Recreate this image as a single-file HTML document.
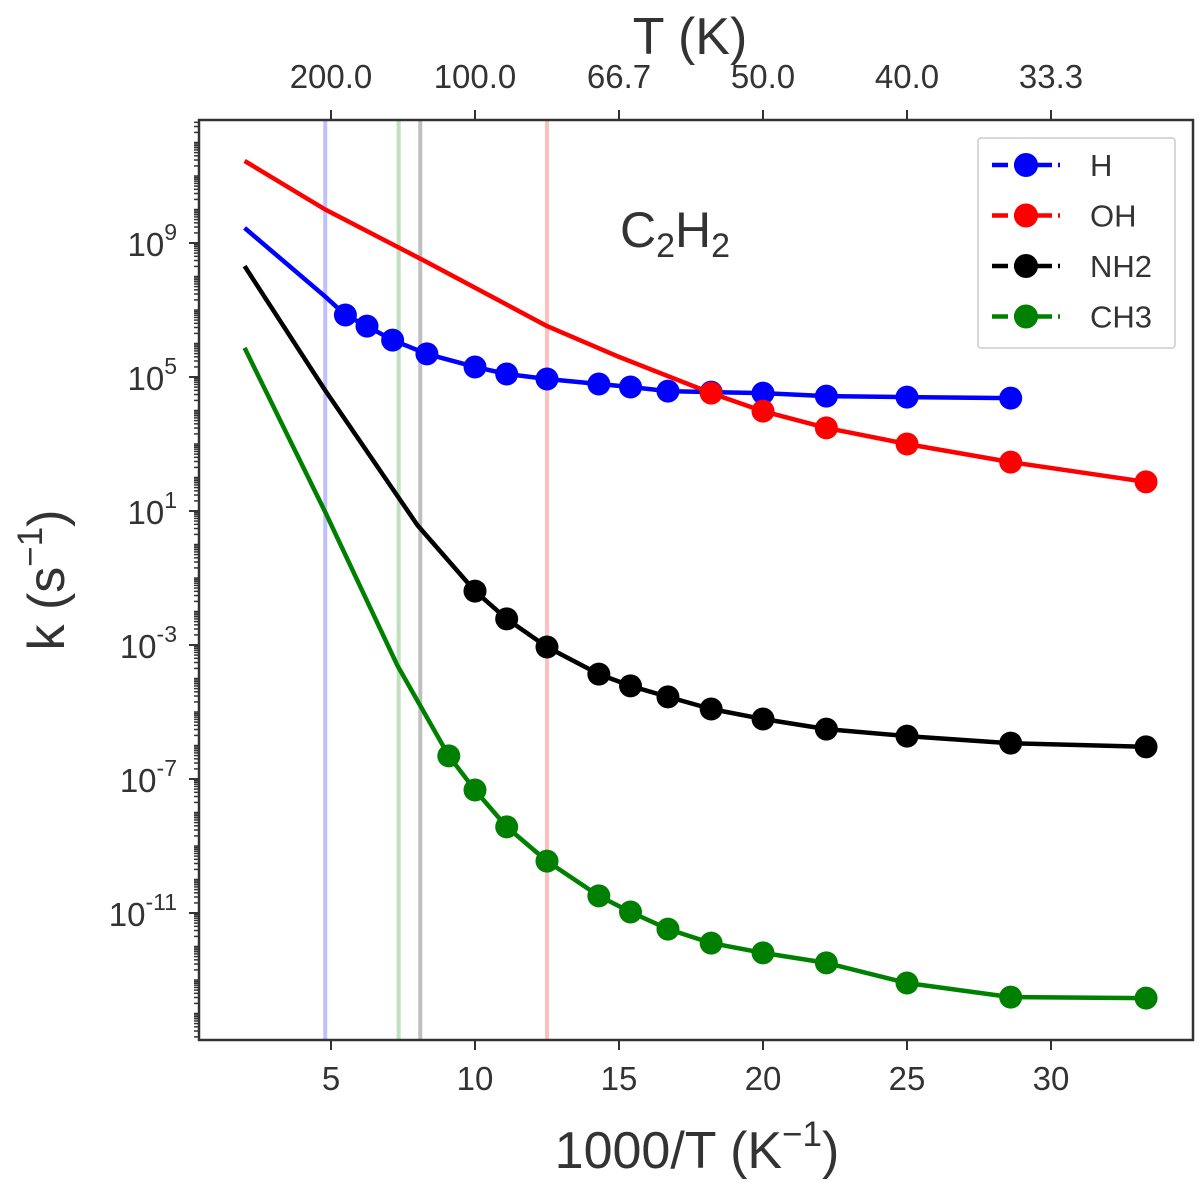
<!DOCTYPE html>
<html><head><meta charset="utf-8"><style>
html,body{margin:0;padding:0;background:#fff;}
svg{display:block;font-family:"Liberation Sans",sans-serif;}
</style></head><body>
<svg id="chart" width="1200" height="1183" viewBox="0 0 1200 1183" xmlns="http://www.w3.org/2000/svg"></svg>
<script>
const xTicks=[5,10,15,20,25,30];
const topLabels=["200.0","100.0","66.7","50.0","40.0","33.3"];
const yTicks=[9,5,1,-3,-7,-11];
const vLines=[{x:4.8,c:"rgba(0,0,255,0.25)"},{x:7.35,c:"rgba(0,128,0,0.25)"},{x:8.1,c:"rgba(0,0,0,0.25)"},{x:12.5,c:"rgba(255,0,0,0.25)"}];
const hLineX=[2,4.8,5.5,6.25,7.14,8.33,10,11.1,12.5,14.3,15.4,16.7,18.2,20,22.2,25,28.6];
const hLineY=[9.45,7.4,6.85,6.52,6.1,5.69,5.3,5.09,4.94,4.79,4.7,4.58,4.55,4.52,4.43,4.4,4.37];
const hPts=[2,3,4,5,6,7,8,9,10,11,12,13,14,15,16];
const ohX=[2,4.8,8.33,12.5,15,18.2,20,22.2,25,28.6,33.3];
const ohY=[11.45,10.0,8.43,6.52,5.6,4.52,3.98,3.48,3.0,2.46,1.87];
const ohPts=[5,6,7,8,9,10];
const nhX=[2,4.8,8,10,11.1,12.5,14.3,15.4,16.7,18.2,20,22.2,25,28.6,33.3];
const nhY=[8.31,4.6,0.58,-1.39,-2.22,-3.06,-3.87,-4.22,-4.55,-4.91,-5.21,-5.51,-5.72,-5.93,-6.04];
const nhPts=[3,4,5,6,7,8,9,10,11,12,13,14];
const chX=[2,4.8,7.3,9.09,10,11.1,12.5,14.3,15.4,16.7,18.2,20,22.2,25,28.6,33.3];
const chY=[5.87,0.97,-3.6,-6.31,-7.33,-8.43,-9.45,-10.49,-10.97,-11.48,-11.9,-12.19,-12.49,-13.09,-13.51,-13.54];
const chPts=[3,4,5,6,7,8,9,10,11,12,13,14,15];
const series=[
 {name:"H",c:"#0000ff",x:hLineX,y:hLineY,p:hPts},
 {name:"OH",c:"#ff0000",x:ohX,y:ohY,p:ohPts},
 {name:"NH2",c:"#000000",x:nhX,y:nhY,p:nhPts},
 {name:"CH3",c:"#008000",x:chX,y:chY,p:chPts}];
const L=199,R=1193,T=120,B=1040;
const sx=v=>187+v*28.8;
const sy=v=>243+(9-v)*33.5;
const svg=document.getElementById('chart');
const NS="http://www.w3.org/2000/svg";
function mk(t,a,txt){const e=document.createElementNS(NS,t);for(const k in a)e.setAttribute(k,a[k]);if(txt!==undefined)e.textContent=txt;svg.appendChild(e);return e;}
vLines.forEach(v=>{const e=mk('line',{x1:sx(v.x),x2:sx(v.x),y1:T,y2:B,stroke:v.c,'stroke-width':4});

});
for(let d=-15;d<13;d++){for(let m=1;m<10;m++){const lv=d+Math.log10(m);const y=sy(lv);if(y<T||y>B)continue;
const e=mk('line',{x1:L-5,x2:L,y1:y,y2:y,stroke:'#333','stroke-width':1.5});

}}
yTicks.forEach(t=>{const y=sy(t);
const e=mk('line',{x1:L-10,x2:L,y1:y,y2:y,stroke:'#333','stroke-width':2});


const tx=mk('text',{x:L-22,y:y+13,'text-anchor':'end','font-size':33,fill:'#333'});


tx.innerHTML='10<tspan dy="-16" font-size="23">'+t+'</tspan>';});
xTicks.forEach((t,i)=>{const x=sx(t);
const e=mk('line',{x1:x,x2:x,y1:B,y2:B+10,stroke:'#333','stroke-width':2});


const tx=mk('text',{x:x,y:B+50,'text-anchor':'middle','font-size':33,fill:'#333'},String(t));


const e2=mk('line',{x1:x,x2:x,y1:T-10,y2:T,stroke:'#333','stroke-width':2});


const t2=mk('text',{x:x,y:T-32,'text-anchor':'middle','font-size':33,fill:'#333'},topLabels[i]);

});
series.forEach(s=>{
 const d=s.x.map((v,i)=>(i?'L':'M')+sx(v).toFixed(1)+','+sy(s.y[i]).toFixed(1)).join(' ');
 const p=mk('path',{d:d,fill:'none',stroke:s.c,'stroke-width':4.5,'stroke-linejoin':'round'});
 
 
 s.p.forEach(i=>{const c=mk('circle',{cx:sx(s.x[i]),cy:sy(s.y[i]),r:11.5,fill:s.c});
 
 });
});
const fr=mk('rect',{x:L,y:T,width:R-L,height:B-T,fill:'none',stroke:'#333','stroke-width':2.5});


const lg=mk('rect',{x:978,y:138,width:197,height:210,fill:'#fff',stroke:'#ccc','stroke-width':1.5,rx:3});


series.forEach((s,i)=>{const y=165+i*50.5;
 const l=mk('line',{x1:992,x2:1060,y1:y,y2:y,stroke:s.c,'stroke-width':4.5,'stroke-dasharray':'16,6'});
 
 
 const c=mk('circle',{cx:1026,cy:y,r:12,fill:s.c});
 
 
 const t=mk('text',{x:1090,y:y+11,'font-size':31,fill:'#333'},s.name);
 
 });
const ti=mk('text',{x:620,y:247,'font-size':50,fill:'#333'});


ti.innerHTML='C<tspan dy="10" font-size="34">2</tspan><tspan dy="-10">H</tspan><tspan dy="10" font-size="34">2</tspan>';
const xl=mk('text',{x:697,y:1168,'text-anchor':'middle','font-size':52,fill:'#333'});


xl.innerHTML='1000/T (K<tspan dy="-22" font-size="35">−1</tspan><tspan dy="22">)</tspan>';
const tl=mk('text',{x:690,y:54,'text-anchor':'middle','font-size':52,fill:'#333'},'T (K)');


const yl=mk('text',{x:0,y:0,'text-anchor':'middle','font-size':52,fill:'#333',transform:'translate(64,580) rotate(-90)'});


yl.innerHTML='k (s<tspan dy="-22" font-size="35">−1</tspan><tspan dy="22">)</tspan>';
</script>
</body></html>
